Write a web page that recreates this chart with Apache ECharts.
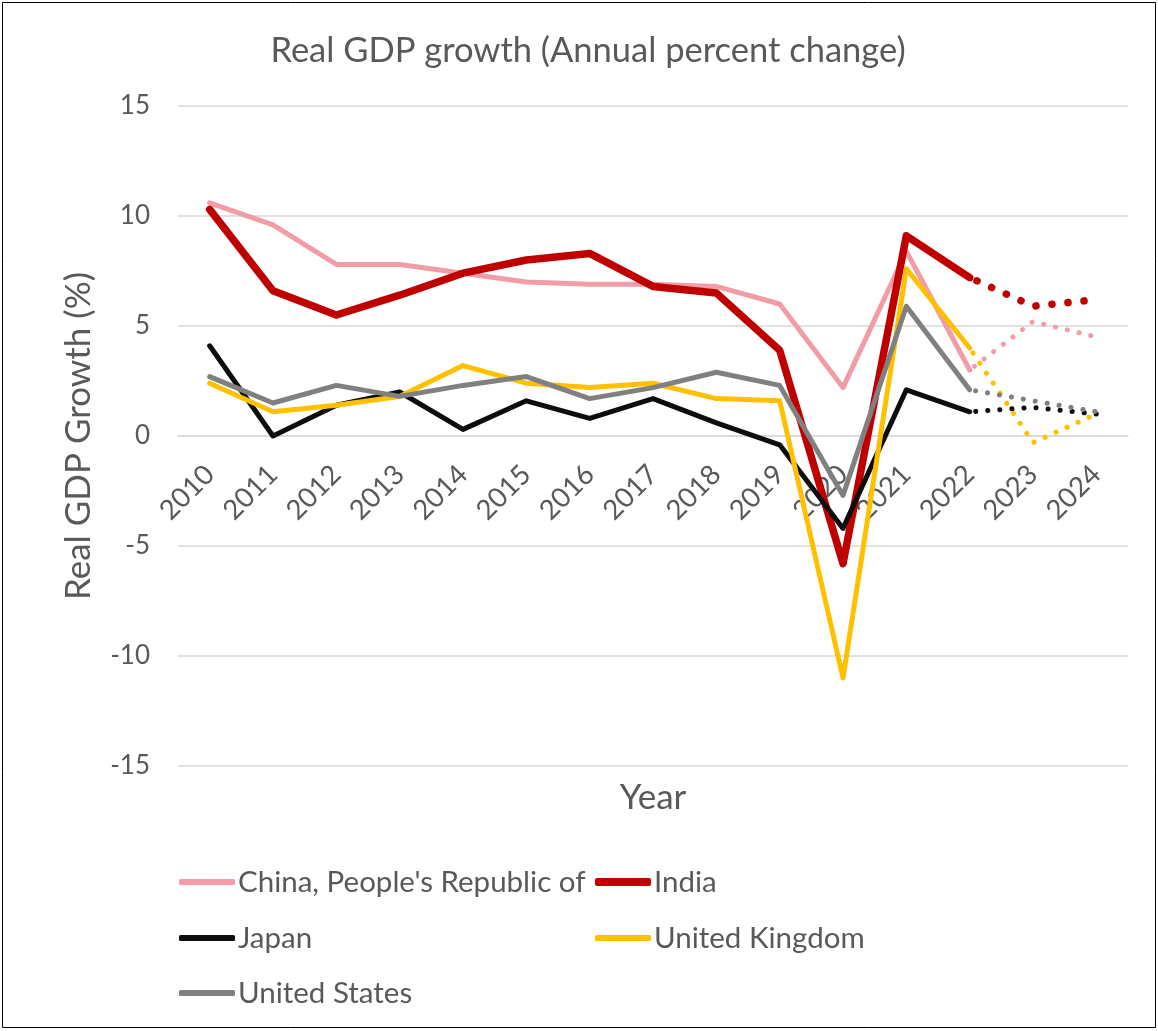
<!DOCTYPE html>
<html>
<head>
<meta charset="utf-8">
<script src="https://cdn.jsdelivr.net/npm/echarts@6/dist/echarts.min.js"></script>
<style>
html,body{margin:0;padding:0;background:#fff;}
#chart{width:1158px;height:1031px;}
</style>
</head>
<body>
<div id="chart"></div>
<script>
// ---- data ----
const years = ['2010','2011','2012','2013','2014','2015','2016','2017','2018','2019','2020','2021','2022','2023','2024'];
const yTicks = [-15, -10, -5, 0, 5, 10, 15];

const china = [10.6, 9.6, 7.8, 7.8, 7.4, 7.0, 6.9, 6.9, 6.8, 6.0, 2.2, 8.4, 3.0];
const chinaForecast = [5.2, 4.5];
const india = [10.3, 6.6, 5.5, 6.4, 7.4, 8.0, 8.3, 6.8, 6.5, 3.9, -5.8, 9.1, 7.2];
const indiaForecast = [5.9, 6.2];
const japan = [4.1, 0.0, 1.4, 2.0, 0.3, 1.6, 0.8, 1.7, 0.6, -0.4, -4.2, 2.1, 1.1];
const japanForecast = [1.3, 1.0];
const uk = [2.4, 1.1, 1.4, 1.8, 3.2, 2.4, 2.2, 2.4, 1.7, 1.6, -11.0, 7.6, 4.0];
const ukForecast = [-0.3, 1.0];
const us = [2.7, 1.5, 2.3, 1.8, 2.3, 2.7, 1.7, 2.2, 2.9, 2.3, -2.7, 5.9, 2.1];
const usForecast = [1.6, 1.1];

const names = ["China, People's Republic of", 'India', 'Japan', 'United Kingdom', 'United States'];
const colors = ['#F19CA6', '#C00000', '#0D0D0D', '#FFC000', '#808080'];

// ---- build ----
const FONT = 'Lato';
const TXT = '#595959';
const actuals = [china, india, japan, uk, us];
const forecasts = [chinaForecast, indiaForecast, japanForecast, ukForecast, usForecast];
const widths = [5, 7.5, 5, 5, 5];

function forecastData(a, f) {
  return new Array(a.length - 1).fill(null).concat([a[a.length - 1]], f);
}

const series = [];
names.forEach((n, i) => {
  series.push({
    name: n, type: 'line', data: actuals[i], symbol: 'none', z: 2 + i,
    lineStyle: { color: colors[i], width: widths[i], cap: 'round', join: 'round' },
    itemStyle: { color: colors[i] }
  });
});
names.forEach((n, i) => {
  const period = widths[i] > 6 ? 16 : 12;
  series.push({
    name: n + ' (forecast)', type: 'line', data: forecastData(actuals[i], forecasts[i]), symbol: 'none', z: 2 + i,
    lineStyle: { color: colors[i], width: widths[i], type: [0.1, period], cap: 'round', dashOffset: -period/2 },
    itemStyle: { color: colors[i] }
  });
});

function legendAt(idx, left, top, h) {
  return {
    data: [names[idx]], left: left, top: top, orient: 'horizontal',
    icon: 'roundRect', itemWidth: 56, itemHeight: h, itemGap: 0,
    textStyle: { fontFamily: FONT, fontSize: 29.5, color: TXT, padding: [0, 0, 0, -2] },
    selectedMode: false
  };
}

const chart = echarts.init(document.getElementById('chart'), null, { renderer: 'canvas' });
const option = {
  backgroundColor: '#fff',
  animation: false,
  title: {
    text: 'Real GDP growth (Annual percent change)',
    left: 583, top: 28, textAlign: 'center',
    textStyle: { fontFamily: FONT, fontSize: 34.5, fontWeight: 'normal', color: TXT }
  },
  graphic: [{
    type: 'rect', shape: { x: 2.5, y: 2.5, width: 1153, height: 1025 },
    style: { fill: 'none', stroke: '#000', lineWidth: 1 }, silent: true
  }],
  grid: { left: 178, right: 30, top: 106, bottom: 265, containLabel: false, outerBoundsMode: 'none' },
  legend: [
    legendAt(0, 174, 862, 6),
    legendAt(1, 590, 862, 8),
    legendAt(2, 174, 918, 6),
    legendAt(3, 590, 918, 6),
    legendAt(4, 174, 973, 6)
  ],
  xAxis: {
    type: 'category', data: years, boundaryGap: true, position: 'bottom', offset: 0, z: 0,
    name: 'Year', nameLocation: 'middle', nameGap: 344,
    nameTextStyle: { fontFamily: FONT, fontSize: 35, color: TXT },
    axisLine: { onZero: true, lineStyle: { color: '#D9D9D9', width: 1.5 } },
    axisTick: { show: false },
    axisLabel: { rotate: 45, margin: 34, fontFamily: FONT, fontSize: 27.5, color: TXT, interval: 0 }
  },
  yAxis: {
    type: 'value', min: yTicks[0], max: yTicks[yTicks.length - 1], interval: 5,
    name: 'Real GDP Growth (%)', nameLocation: 'middle', nameGap: 82, nameRotate: 90,
    nameTextStyle: { fontFamily: FONT, fontSize: 35, color: TXT },
    axisLine: { show: false, onZero: false }, axisTick: { show: false },
    axisLabel: { margin: 28, fontFamily: FONT, fontSize: 26, color: TXT },
    splitLine: { lineStyle: { color: '#D9D9D9', width: 1.5 } }
  },
  series: series
};
chart.setOption(option);

// Place the category axis on the zero line using the library's own value scale
const yZero = chart.convertToPixel({ yAxisIndex: 0 }, 0);
const yBottom = chart.convertToPixel({ yAxisIndex: 0 }, yTicks[0]);
chart.setOption({ xAxis: { axisLine: { onZero: false }, offset: yZero - yBottom } });
</script>
</body>
</html>
